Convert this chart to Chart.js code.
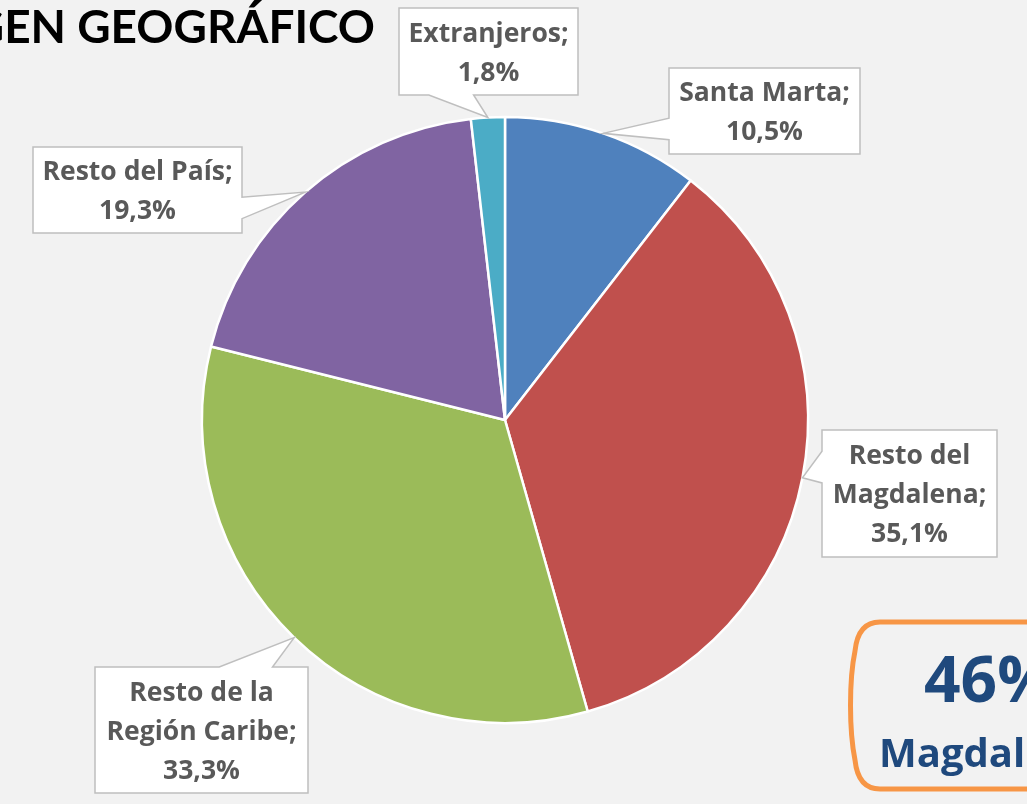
<!DOCTYPE html>
<html>
<head>
<meta charset="utf-8">
<script src="https://cdn.jsdelivr.net/npm/chart.js@4.4.1/dist/chart.umd.min.js"></script>
<style>
  html, body { margin: 0; padding: 0; background: #f2f2f2; overflow: hidden; }
  canvas { display: block; }
</style>
</head>
<body>
<canvas id="pie" width="1027" height="804"></canvas>
<script>
const categories = ['Santa Marta', 'Resto del\nMagdalena', 'Resto de la\nRegión Caribe', 'Resto del País', 'Extranjeros'];
const shares = [10.5, 35.1, 33.3, 19.3, 1.8];
const sliceColors = ['#4f81bd', '#c0504d', '#9bbb59', '#8064a2', '#4bacc6'];
const titleText = 'ORIGEN GEOGRÁFICO';
const highlightValue = '46%';
const highlightLabel = 'Magdalena';

// cajas de las etiquetas (solo posición)
const callouts = [
    { x: 669, y: 68, w: 191, h: 86, side: 'left' },
    { x: 822, y: 430, w: 175, h: 127, side: 'left' },
    { x: 95, y: 667, w: 213, h: 126, side: 'top' },
    { x: 33, y: 147, w: 209, h: 86, side: 'right' },
    { x: 399, y: 8, w: 179, h: 87, side: 'bottom' }
];

const fmt = v => v.toFixed(1).replace('.', ',') + '%';

function drawCallout(ctx, box, tip, lines) {
    const { x, y, w, h, side } = box;
    const L = x, R = x + w, T = y, B = y + h;
    let a = 1 / 6, b = 5 / 12;
    const horiz = side === 'top' || side === 'bottom';
    const c = horiz ? x + w / 2 : y + h / 2;
    if ((horiz ? tip.x : tip.y) > c) { a = 7 / 12; b = 5 / 6; }

    const pts = [[L, T]];
    if (side === 'top') pts.push([L + w * a, T], [tip.x, tip.y], [L + w * b, T]);
    pts.push([R, T]);
    if (side === 'right') pts.push([R, T + h * a], [tip.x, tip.y], [R, T + h * b]);
    pts.push([R, B]);
    if (side === 'bottom') pts.push([L + w * b, B], [tip.x, tip.y], [L + w * a, B]);
    pts.push([L, B]);
    if (side === 'left') pts.push([L, T + h * b], [tip.x, tip.y], [L, T + h * a]);

    ctx.save();
    ctx.beginPath();
    pts.forEach((p, i) => i ? ctx.lineTo(p[0], p[1]) : ctx.moveTo(p[0], p[1]));
    ctx.closePath();
    ctx.fillStyle = '#ffffff';
    ctx.fill();
    ctx.lineWidth = 1.5;
    ctx.strokeStyle = '#bfbfbf';
    ctx.stroke();

    ctx.fillStyle = '#595959';
    ctx.font = 'bold 26.5px "Open Sans"';
    ctx.textAlign = 'center';
    ctx.textBaseline = 'alphabetic';
    const gap = 39;
    const cy = y + h / 2;
    lines.forEach((t, i) => {
        ctx.fillText(t, x + w / 2, cy - (lines.length - 1) * gap / 2 + i * gap + 9.5);
    });
    ctx.restore();
}

const calloutPlugin = {
    id: 'callouts',
    beforeDraw(chart) {
        const ctx = chart.ctx;
        ctx.save();
        ctx.fillStyle = '#000000';
        ctx.font = 'bold 46px Lato';
        ctx.textAlign = 'right';
        ctx.fillText(titleText, 375, 43);
        ctx.restore();
    },
    afterDatasetsDraw(chart) {
        const ctx = chart.ctx;
        const arcs = chart.getDatasetMeta(0).data;
        arcs.forEach((arc, i) => {
            const p = arc.getProps(['x', 'y', 'startAngle', 'endAngle', 'outerRadius'], true);
            const mid = (p.startAngle + p.endAngle) / 2;
            const tip = { x: p.x + Math.cos(mid) * p.outerRadius, y: p.y + Math.sin(mid) * p.outerRadius };
            const lines = categories[i].split('\n');
            lines[lines.length - 1] += ';';
            lines.push(fmt(shares[i]));
            drawCallout(ctx, callouts[i], tip, lines);
        });

        // recuadro naranja
        ctx.save();
        ctx.beginPath();
        ctx.moveTo(880, 622);
        ctx.lineTo(1100, 622);
        ctx.lineTo(1100, 789);
        ctx.lineTo(880, 789);
        ctx.quadraticCurveTo(858, 789, 855, 760);
        ctx.bezierCurveTo(849, 730, 849, 680, 855, 651);
        ctx.quadraticCurveTo(858, 622, 880, 622);
        ctx.lineWidth = 5;
        ctx.strokeStyle = '#f79646';
        ctx.stroke();
        ctx.fillStyle = '#1f497d';
        ctx.font = 'bold 64px "Open Sans"';
        ctx.fillText(highlightValue, 924, 702);
        ctx.font = 'bold 40px "Open Sans"';
        ctx.fillText(highlightLabel, 879, 767);
        ctx.restore();
    }
};

new Chart(document.getElementById('pie'), {
    type: 'pie',
    data: {
        labels: categories.map(c => c.replace('\n', ' ')),
        datasets: [{
            data: shares,
            backgroundColor: sliceColors,
            borderColor: '#ffffff',
            borderWidth: 2.5,
            hoverOffset: 0,
            offset: 0,
            radius: 303
        }]
    },
    options: {
        responsive: false,
        animation: false,
        devicePixelRatio: 1,
        layout: { padding: { left: 202, right: 219, top: 117, bottom: 81 } },
        plugins: {
            legend: { display: false },
            tooltip: { enabled: false },
            title: { display: false }
        }
    },
    plugins: [calloutPlugin]
});
</script>
</body>
</html>
